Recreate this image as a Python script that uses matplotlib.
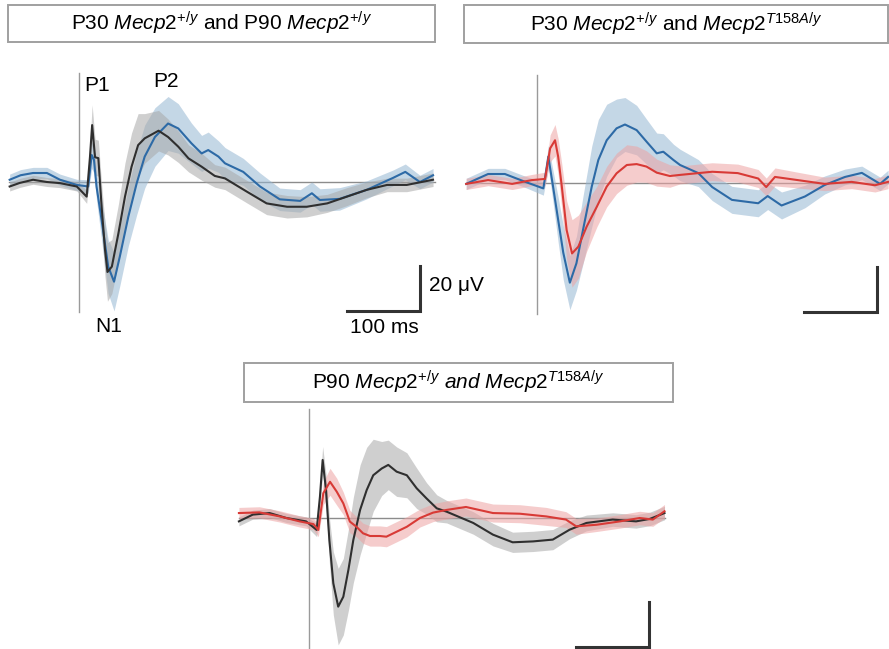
import matplotlib.pyplot as plt
from matplotlib.patches import Rectangle

plt.rcParams["font.family"] = ["Liberation Sans", "DejaVu Sans"]
plt.rcParams["mathtext.fontset"] = "custom"
plt.rcParams["mathtext.rm"] = "Liberation Sans"
plt.rcParams["mathtext.it"] = "Liberation Sans:italic"

FIG_W, FIG_H = 889, 649
PX_PER_MS = 0.73
PX_PER_UV = 2.25

# Panel 1: P30 vs P90 wild type (blue = P30, black = P90); time ms, amplitude uV, sem uV
p1_black_t = [-95, -81, -63, -44, -26, -3, 10.5, 15, 18, 22, 26.5, 31, 35.6, 39, 45, 54,
              63, 72, 81, 90, 109, 122, 136, 150, 168, 186, 200, 230, 257, 285,
              312, 340, 367, 394, 422, 449, 485]
p1_black_v = [-2, -0.4, 1, 0, -0.5, -2, -6.5, 11, 25.3, 11, 10.6, -11, -30, -40, -37.6, -22.8,
              -6.5, 6.8, 16.4, 19.4, 22.8, 20, 15.7, 10.5, 6.8, 2.7, 1.6, -4.3, -9.5, -11,
              -11, -9.5, -6.5, -3.5, -1.3, -1.3, 1]
p1_black_s = [2, 2, 2, 2, 2, 2, 3, 6, 9, 8, 8, 10, 12, 13, 12, 13,
              15, 15, 14, 11, 9, 8, 7, 6, 6, 5, 5, 5, 5, 5,
              4.5, 4, 4, 3.5, 3, 3, 3]

p1_blue_t = [-95, -80, -63, -44, -26, -3, 12.6, 17.4, 20.5, 24, 31, 40, 48, 56, 67.6, 79,
             90, 104, 122, 136, 154, 168, 177, 191, 200, 225, 248, 275, 303, 319,
             330, 357, 394, 430, 447, 467, 485]
p1_blue_v = [1, 3, 4, 4, 1, -1.3, -2, 12, 9.9, -2, -17, -37.6, -44.3, -33, -15.4, -0.6,
             11.3, 20, 26, 23.8, 17.2, 12.7, 14.2, 11.3, 8.3, 4.5, -2, -7.7, -8.4, -5,
             -8, -7.5, -3.5, 1.8, 4.5, 0, 3]
p1_blue_s = [2.5, 2.5, 2.5, 2.5, 2.5, 2.5, 3, 6, 6, 6, 9, 12, 13, 13, 13, 14,
             14, 13, 12, 11, 9, 8, 8, 7, 7, 6, 6, 5, 5, 5,
             5, 5, 4, 3.5, 3.5, 3, 3]

# Panel 2: P30 Mecp2+/y (blue) vs Mecp2 T158A/y (red)
p2_blue_t = [-97, -67, -44, -16, 8.7, 15.5, 22, 29, 36, 45, 54, 63, 75, 84, 95.5, 109,
             120.5, 136.5, 150, 164, 173, 187, 196, 221, 240, 267, 303, 316, 335, 367,
             394, 422, 445, 470, 481]
p2_blue_v = [-0.4, 4, 4, 0.5, -2.4, 11.7, -1.6, -16.4, -31, -44.3, -35.7, -20.9, -1.6, 10.2, 19, 24.3,
             26, 23.5, 18.4, 13.2, 13.9, 10.2, 8, 4.4, -1.8, -7.5, -9, -5.8, -10, -6,
             -0.9, 2.7, 4.5, -0.4, 2.7]
p2_blue_s = [2.5, 2.5, 2.5, 2.5, 3, 5, 7, 10, 12, 12, 12, 15, 18, 18, 16, 13,
             12, 11, 10, 9, 8, 7, 7, 6, 6, 6, 6, 6, 6, 5,
             4, 3.5, 3, 3, 3]

p2_red_t = [-97, -67, -34, -7, 11, 18, 24.7, 29, 34, 40.6, 48, 56.6, 68, 82, 95.5, 109,
            123, 136.5, 150, 164, 182, 196, 240, 275, 303, 314, 326, 357, 394, 431,
            463, 481]
p2_red_v = [-0.4, 1.3, -0.4, 1.3, 1.8, 15.4, 19, 11.7, -1.6, -20.9, -31.3, -28.3, -19.4, -10.5, -1.6, 4.3,
            8, 8.4, 7.3, 4.6, 3.1, 3.6, 5, 4.4, 2, -1.8, 2.7, 1.3, -0.4, 0.5,
            -1, 0.5]
p2_red_s = [2.5, 2.5, 2.5, 2.5, 3, 6, 7, 8, 10, 13, 15, 14, 11, 9, 9, 9,
            9, 8, 7, 6, 5, 4, 4, 4, 4, 4, 4, 3.5, 3, 3,
            3, 3]

# Panel 3: P90 Mecp2+/y (black) vs Mecp2 T158A/y (red)
p3_black_t = [-96, -77, -54, -31, -4, 10.5, 15, 18.7, 23.3, 27.9, 33.3, 40, 47, 54, 60.7, 70,
              79, 88, 99.6, 108.6, 120, 134, 147.5, 161, 175, 188.6, 225, 252, 279, 307,
              334, 357, 380, 416, 448, 467, 487]
p3_black_v = [-1.5, 1.5, 2.2, 0, -1.5, -5.3, 9.5, 25.8, 12.4, -9.8, -29, -39.4, -35, -23, -9.8, 3.6,
              12.4, 19, 22, 23.6, 20.6, 19, 13.2, 8.7, 4.3, 2.8, -2.2, -7.4, -10.8, -10.4,
              -9.6, -5.2, -2.2, -0.7, -1.5, -0.4, 2.2]
p3_black_s = [2, 2, 2, 2, 2, 3, 5, 6, 7, 10, 14, 17, 17, 18, 19, 20,
              19, 16, 12, 11, 11, 10, 9, 7, 6, 5, 5, 5, 4.5, 4.5,
              4.5, 4, 3.5, 3, 3, 3, 3]

p3_red_t = [-96, -68, -40, -13, 6, 12.8, 19.6, 28.8, 38, 47, 56, 65, 74, 83.6, 97, 106,
            120, 134, 152, 170, 188.6, 215, 252, 289, 325, 352, 366, 394, 426, 453,
            471, 487]
p3_red_v = [2.2, 2.5, 0.7, -1.5, -2.7, -5.3, 11, 16.1, 11.7, 6.5, -1.6, -3.9, -6.8, -8, -8, -8.3,
            -6.1, -3.9, 0, 2.4, 3.6, 4.9, 2.2, 1.9, 0.7, -0.7, -3.7, -3, -1.5, 0,
            -0.7, 3]
p3_red_s = [2.5, 2.5, 2.5, 2.5, 2.5, 3, 5, 6, 6, 5, 5, 4.5, 4.5, 4.5, 4.5, 4.5,
            4.5, 4.5, 4, 4, 4, 4, 4, 4, 4, 3.5, 3.5, 3, 3, 3,
            3, 3]

TITLES = [
    r"P30 $\mathit{Mecp2}^{+/y}$ and P90 $\mathit{Mecp2}^{+/y}$",
    r"P30 $\mathit{Mecp2}^{+/y}$ and $\mathit{Mecp2}^{\mathit{T158A/y}}$",
    r"P90 $\mathit{Mecp2}^{+/y}$ $\mathit{and}$ $\mathit{Mecp2}^{\mathit{T158A/y}}$",
]

BLUE = "#2d6aa6"
BLUE_FILL = "#95b6d2"
BLACK = "#2f2f2f"
GREY_FILL = "#a8a8a8"
RED = "#d83a36"
RED_FILL = "#eda3a3"
FS = 15


def px_axes(fig, x0, y0, tmin=-100, tmax=500, vmin=-62, vmax=50):
    """Axes whose t=0 / v=0 origin sits at pixel (x0, y0) from the top-left."""
    left = x0 + tmin * PX_PER_MS
    width = (tmax - tmin) * PX_PER_MS
    top = y0 - vmax * PX_PER_UV
    height = (vmax - vmin) * PX_PER_UV
    ax = fig.add_axes([left / FIG_W, 1 - (top + height) / FIG_H,
                       width / FIG_W, height / FIG_H])
    ax.set_xlim(tmin, tmax)
    ax.set_ylim(vmin, vmax)
    ax.axis("off")
    return ax


def plot_trace(ax, t, v, s, color, fill, z):
    lo = [a - b for a, b in zip(v, s)]
    hi = [a + b for a, b in zip(v, s)]
    ax.fill_between(t, lo, hi, color=fill, alpha=0.55, lw=0, zorder=z)
    ax.plot(t, v, color=color, lw=1.5, zorder=z + 3)


def decorate(ax, t_first, t_last, v_top, v_bot):
    ax.plot([t_first, t_last], [0, 0], color="#8c8c8c", lw=1.0, zorder=1)
    ax.plot([0, 0], [v_bot, v_top], color="#9a9a9a", lw=1.0, zorder=1)


def scale_bar(ax, t_right, v_bottom):
    ax.plot([t_right - 100, t_right, t_right], [v_bottom, v_bottom, v_bottom + 20],
            color="#333333", lw=2.2, solid_joinstyle="miter", clip_on=False, zorder=10)


def title_box(fig, x0, y0, x1, y1, text):
    fig.add_artist(Rectangle((x0 / FIG_W, 1 - y1 / FIG_H), (x1 - x0) / FIG_W, (y1 - y0) / FIG_H,
                             transform=fig.transFigure, fill=False, ec="#a0a0a0", lw=1.4))
    fig.text((x0 + x1) / 2 / FIG_W, 1 - (y0 + y1) / 2 / FIG_H, text,
             ha="center", va="center", fontsize=FS)


def main():
    fig = plt.figure(figsize=(FIG_W / 100, FIG_H / 100), dpi=100)

    # Panel 1
    ax1 = px_axes(fig, 79, 182)
    decorate(ax1, -96, 487, 48.4, -57.8)
    plot_trace(ax1, p1_blue_t, p1_blue_v, p1_blue_s, BLUE, BLUE_FILL, 2)
    plot_trace(ax1, p1_black_t, p1_black_v, p1_black_s, BLACK, GREY_FILL, 3)
    scale_bar(ax1, 467, -57.3)
    ax1.text(25, 43, "P1", ha="center", va="center", fontsize=FS)
    ax1.text(119, 44.5, "P2", ha="center", va="center", fontsize=FS)
    ax1.text(40, -64, "N1", ha="center", va="center", fontsize=FS, clip_on=False)
    ax1.text(418, -64.5, "100 ms", ha="center", va="center", fontsize=FS, clip_on=False)
    ax1.text(480, -46, "20 \u03bcV", ha="left", va="center", fontsize=FS, clip_on=False)
    title_box(fig, 8, 5, 435, 42, TITLES[0])

    # Panel 2
    ax2 = px_axes(fig, 537, 183)
    decorate(ax2, -97, 481, 48, -58)
    plot_trace(ax2, p2_blue_t, p2_blue_v, p2_blue_s, BLUE, BLUE_FILL, 2)
    plot_trace(ax2, p2_red_t, p2_red_v, p2_red_s, RED, RED_FILL, 3)
    scale_bar(ax2, 466, -57.3)
    title_box(fig, 464, 5, 888, 43, TITLES[1])

    # Panel 3
    ax3 = px_axes(fig, 309, 518)
    decorate(ax3, -96, 487, 48.4, -57.8)
    plot_trace(ax3, p3_black_t, p3_black_v, p3_black_s, BLACK, GREY_FILL, 2)
    plot_trace(ax3, p3_red_t, p3_red_v, p3_red_s, RED, RED_FILL, 3)
    scale_bar(ax3, 466, -57.3)
    title_box(fig, 244, 363, 673, 402, TITLES[2])

    fig.savefig("out.png", dpi=100)


if __name__ == "__main__":
    main()
